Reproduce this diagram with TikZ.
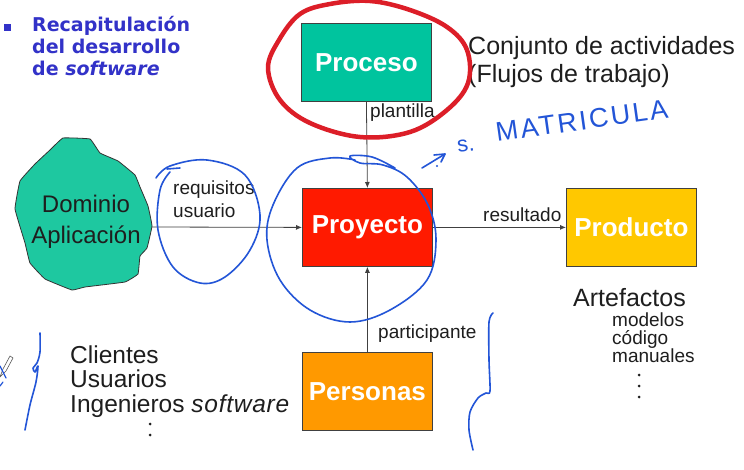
\documentclass[tikz,border=0pt]{standalone}
\usepackage{fontspec}
\setmainfont{Liberation Sans}
\newfontfamily\titlefont{DejaVu Sans}
\usetikzlibrary{arrows.meta}
\definecolor{procteal}{RGB}{0,196,158}
\definecolor{blobteal}{RGB}{30,200,160}
\definecolor{proyred}{RGB}{255,26,0}
\definecolor{prodgold}{RGB}{255,200,0}
\definecolor{persorange}{RGB}{255,153,0}
\definecolor{titleblue}{RGB}{50,50,200}
\definecolor{penblue}{RGB}{35,85,215}
\definecolor{penred}{RGB}{220,30,40}
\definecolor{txt}{RGB}{30,30,30}
\begin{document}
\begin{tikzpicture}[x=1pt,y=-1pt,
  box/.style={draw=black!75, line width=0.8pt, minimum width=130pt, minimum height=78pt,
    inner sep=0pt, text=white, font=\fontsize{26}{30}\selectfont\bfseries, anchor=north west},
  conn/.style={draw=black!75, line width=0.8pt, -{Latex[length=6pt,width=5pt]}},
  lbl/.style={inner sep=0pt, anchor=base west, text=txt, font=\fontsize{19}{22}\selectfont},
  big/.style={inner sep=0pt, anchor=base west, text=txt, font=\fontsize{25}{28}\selectfont},
  small/.style={inner sep=0pt, anchor=base west, text=txt, font=\fontsize{19}{22}\selectfont},
  ttl/.style={inner sep=0pt, anchor=base west, text=titleblue, font=\titlefont\bfseries\fontsize{19}{22}\selectfont},
  pen/.style={draw=penblue, line width=1.6pt, line cap=round, line join=round},
  redpen/.style={draw=penred, line width=4.5pt, line cap=round, line join=round},
  dotmark/.style={fill=txt, circle, inner sep=0pt, minimum size=3pt},
]
\fill[white] (0,0) rectangle (744,470);
\useasboundingbox (0,0) rectangle (744,470);

% title
\fill[titleblue] (4,24) rectangle (11,31);
\node[ttl] (t1) at (32,32) {Recapitulación};
\node[ttl] (t2) at (32,54) {del desarrollo};
\node[ttl] (t3) at (32,76) {de \itshape software};

% blob
\draw[draw=black!80, line width=0.8pt, fill=blobteal] plot[smooth cycle, tension=0.15] coordinates {
 (63,138) (90,139) (100,153) (118,161) (135,175) (140,187) (148,206) (152,226)
 (147,248) (140,256) (138,274) (125,282) (85,287) (72,290) (45,279) (30,263)
 (25,243) (15,209) (20,181) (35,164) (50,150)};
\node[inner sep=0pt, anchor=base, text=txt, font=\fontsize{24}{28}\selectfont] (dom1) at (86,213) {Dominio};
\node[inner sep=0pt, anchor=base, text=txt, font=\fontsize{24}{28}\selectfont] (dom2) at (86,244) {Aplicación};
\coordinate (blobE) at (152,227);

% boxes
\node[box, fill=procteal] (proceso) at (301,23) {Proceso};
\node[box, fill=proyred] (proyecto) at (302,188) {Proyecto};
\node[box, fill=prodgold] (producto) at (566,188) {Producto};
\node[box, fill=persorange] (personas) at (302,352) {Personas};

% connectors
\draw[conn] (proceso.south) -- (proyecto.north);
\draw[conn] (blobE) -- (proyecto.west);
\draw[conn] (proyecto.east) -- (producto.west);
\draw[conn] (personas.north) -- (proyecto.south);

% labels
\node[lbl] (lplant) at (370,118) {plantilla};
\node[lbl] (lreq1) at (173,195) {requisitos};
\node[lbl] (lreq2) at (173,218) {usuario};
\node[lbl] (lres) at (483,222) {resultado};
\node[lbl] (lpart) at (378,338) {participante};

% side texts
\node[big] (conj1) at (468,55) {Conjunto de actividades};
\node[big] (conj2) at (468,83) {(Flujos de trabajo)};
\node[big] (arte) at (573,306) {Artefactos};
\node[small] (mod) at (612,326) {modelos};
\node[small] (cod) at (612,344) {código};
\node[small] (man) at (612,362) {manuales};
\node[dotmark] (d1) at (639,375) {};
\node[dotmark] (d2) at (639,386) {};
\node[dotmark] (d3) at (639,397) {};
\node[big, font=\fontsize{24.5}{28}\selectfont] (cli) at (70,363) {Clientes};
\node[big, font=\fontsize{24.5}{28}\selectfont] (usu) at (70,387) {Usuarios};
\node[big, font=\fontsize{24.5}{28}\selectfont] (ing) at (70,412) {Ingenieros {\itshape\addfontfeature{LetterSpace=3}software}};
\node[dotmark] (c1) at (150,424) {};
\node[dotmark] (c2) at (150,435) {};

% hand annotations
\draw[redpen] plot[smooth cycle, tension=0.6] coordinates {
 (370,1) (330,4) (300,14) (279,40) (268,68) (280,100) (310,123) (360,137)
 (410,132) (447,110) (468,83) (467,50) (447,27) (410,10)};
\draw[pen] plot[smooth, tension=0.6] coordinates {
 (156,178) (170,166) (207,160) (245,175) (260,215) (250,250) (225,277) (200,283)
 (173,267) (158,230) (160,190) (170,172)};
\draw[pen] (167,169) -- (180,168);
\draw[pen] plot[smooth, tension=0.6] coordinates {
 (355,160) (330,158) (297,168) (273,205) (267,240) (280,280) (310,310) (350,322)
 (390,310) (427,280) (436,240) (428,205) (407,177) (383,165) (360,163) (350,156) (372,157) (395,168)};
\draw[pen] (422,168) -- (445,154);
\draw[pen] (434,155) -- (445,154) -- (441,162);
\fill[penblue] (437,166) circle (1.2);
\node[inner sep=0pt, anchor=base west, text=penblue, rotate=8, font=\fontsize{22}{24}\selectfont] (s1) at (458,153) {s.};
\node[inner sep=0pt, anchor=base west, text=penblue, rotate=8, font=\addfontfeature{LetterSpace=9}\fontsize{27}{30}\selectfont] (matr) at (497,142) {MATRICULA};
\draw[pen] plot[smooth, tension=0.5] coordinates {(40,333) (40,352) (37,363) (33,368) (35,372) (38,366) (36,382) (30,405) (25,430)};
\draw[pen] plot[smooth, tension=0.5] coordinates {(493,313) (489,322) (489,360) (490,391) (486,393) (478,398) (470,412) (469,430) (473,450)};
% pen cursor
\draw[black!65, line width=0.6pt, fill=white] (0,377) -- (3,369) -- (10,356) -- (13,358) -- (6,371) -- cycle;
\draw[pen, line width=1.2pt] (0,366) -- (6,378);
\draw[pen, line width=1.2pt] (0,386) -- (3,382);
\end{tikzpicture}
\end{document}
